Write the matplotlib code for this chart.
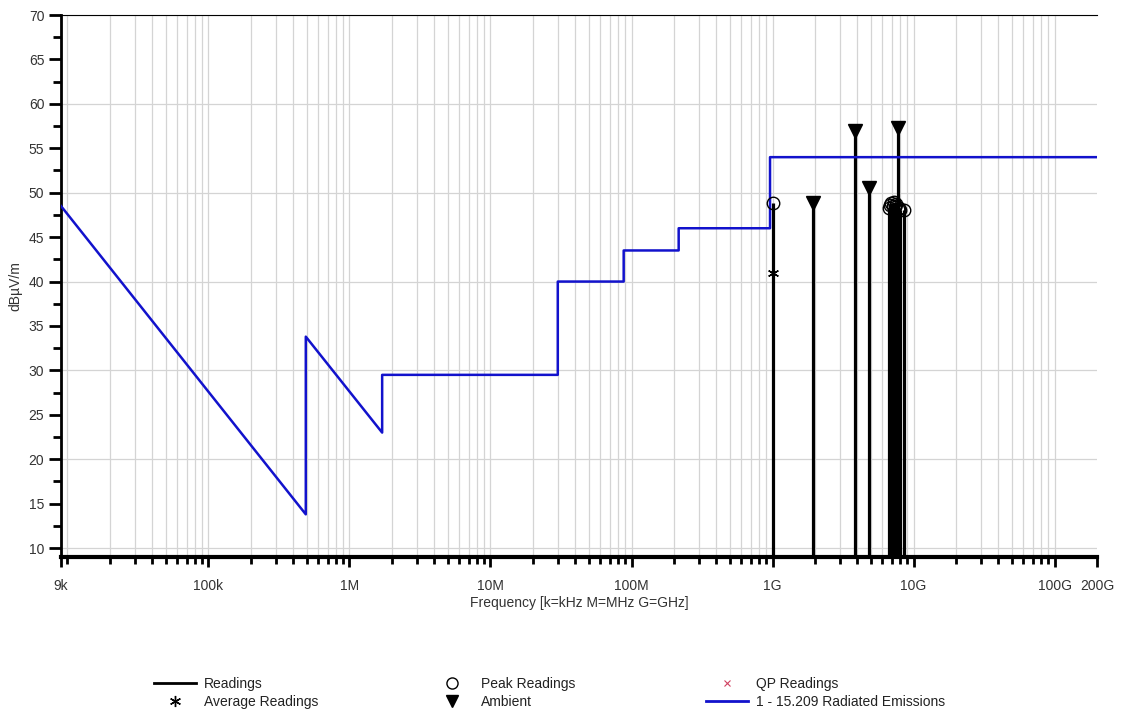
import numpy as np
import matplotlib
matplotlib.use("Agg")
import matplotlib.pyplot as plt
from matplotlib.lines import Line2D
from matplotlib.ticker import FixedLocator, NullFormatter, FixedFormatter

plt.rcParams['font.family'] = ['Liberation Sans', 'DejaVu Sans']

# ---- data ----
# FCC 15.209 limit (frequency Hz, dBuV/m)
limit_freq = [9e3, 490e3, 490e3, 1.705e6, 1.705e6, 30e6, 30e6, 88e6, 88e6, 216e6, 216e6, 960e6, 960e6, 2e11]
limit_val = [48.5, 13.8, 33.8, 23.0, 29.5, 29.5, 40.0, 40.0, 43.5, 43.5, 46.0, 46.0, 54.0, 54.0]

# Peak readings
peak_freq = [1.01e9, 6.65e9, 6.8e9, 6.95e9, 7.1e9, 7.25e9, 7.4e9, 7.55e9, 7.7e9, 7.85e9, 8.0e9, 8.6e9]
peak_val = [48.8, 48.3, 48.6, 48.8, 48.5, 48.9, 48.4, 48.7, 48.2, 48.3, 48.0, 48.1]

# Average readings
avg_freq = [1.01e9]
avg_val = [41.0]

# Ambient
amb_freq = [1.93e9, 3.85e9, 4.83e9, 7.72e9]
amb_val = [48.8, 56.9, 50.5, 57.3]

# axes ticks
x_major = [9e3, 1e5, 1e6, 1e7, 1e8, 1e9, 1e10, 1e11, 2e11]
x_labels = ['9k', '100k', '1M', '10M', '100M', '1G', '10G', '100G', '200G']
y_major = list(range(10, 71, 5))

W, H = 1121, 719
fig = plt.figure(figsize=(W / 100, H / 100), dpi=100)
ax = fig.add_axes([61 / W, 1 - 557 / H, (1097 - 61) / W, (557 - 15) / H])

ax.set_xscale('log')
ax.set_xlim(9e3, 2e11)
ax.set_ylim(9.0, 70)

# grid
minor_x = [m * 10 ** e for e in range(4, 12) for m in range(1, 10) if 9e3 < m * 10 ** e < 2e11]
for xv in minor_x:
    ax.axvline(xv, color='#d4d4d4', lw=0.9, zorder=0)
for yv in range(10, 71, 10):
    ax.axhline(yv, color='#d4d4d4', lw=0.9, zorder=0)

# readings lines
BASE = 9.0
for f, v in zip(peak_freq, peak_val):
    ax.plot([f, f], [BASE, v], color='black', lw=2.3, zorder=3, solid_capstyle='butt')
for f, v in zip(amb_freq, amb_val):
    ax.plot([f, f], [BASE, v], color='black', lw=2.3, zorder=3, solid_capstyle='butt')

# limit line
ax.plot(limit_freq, limit_val, color='#1212cc', lw=1.8, zorder=4)

# markers
ax.plot(peak_freq, peak_val, linestyle='none', marker='o', ms=9, mfc='none', mec='black', mew=1.0, zorder=5)
ax.plot(avg_freq, avg_val, linestyle='none', marker=(6, 2, 0), ms=8, mec='black', mew=1.0, zorder=5)
ax.plot(amb_freq, amb_val, linestyle='none', marker='v', ms=10, color='black', zorder=5)

# ticks
ax.xaxis.set_major_locator(FixedLocator(x_major))
ax.xaxis.set_major_formatter(FixedFormatter(x_labels))
ax.xaxis.set_minor_locator(FixedLocator(minor_x))
ax.xaxis.set_minor_formatter(NullFormatter())
ax.yaxis.set_major_locator(FixedLocator(y_major))
ax.yaxis.set_minor_locator(FixedLocator([v + 2.5 for v in range(10, 70, 5)]))
ax.tick_params(axis='x', which='major', direction='out', length=7, width=2, labelsize=10, pad=9, colors='black')
ax.tick_params(axis='x', which='minor', direction='out', length=5, width=2)
ax.tick_params(axis='y', which='major', direction='out', length=9, width=2, labelsize=10, pad=3)
ax.tick_params(axis='y', which='minor', direction='out', length=6, width=2)
for lab in ax.get_xticklabels() + ax.get_yticklabels():
    lab.set_color('#333333')

ax.spines['bottom'].set_linewidth(3)
ax.spines['left'].set_linewidth(2)
ax.spines['top'].set_linewidth(0.8)
ax.spines['right'].set_visible(False)

ax.set_xlabel('Frequency [k=kHz M=MHz G=GHz]', fontsize=10, color='#333333', labelpad=2)
ax.set_ylabel('dBµV/m', fontsize=10, color='#333333')
ax.yaxis.set_label_coords(-39 / (1097 - 61), 0.5)

# legend
def mk_legend(handles, labels, x0, y0):
    lg = fig.legend(handles, labels, loc='upper left', bbox_to_anchor=(x0 / W, 1 - y0 / H),
                    frameon=False, fontsize=10, handlelength=3.0, handletextpad=0.6,
                    labelspacing=0.3, borderpad=0, borderaxespad=0)
    for t in lg.get_texts():
        t.set_color('#222222')
    return lg

h_read = Line2D([], [], color='black', lw=2)
h_avg = Line2D([], [], color='black', linestyle='none', marker=(6, 2, 0), ms=8, mew=1.0)
h_peak = Line2D([], [], color='black', linestyle='none', marker='o', ms=8, mfc='none', mew=1.0)
h_amb = Line2D([], [], color='black', linestyle='none', marker='v', ms=8)
h_qp = Line2D([], [], color='#d04060', linestyle='none', marker='x', ms=5, mew=0.8)
h_lim = Line2D([], [], color='#1212cc', lw=2)

mk_legend([h_read, h_avg], ['Readings', 'Average Readings'], 154, 677)
mk_legend([h_peak, h_amb], ['Peak Readings', 'Ambient'], 431, 677)
mk_legend([h_qp, h_lim], ['QP Readings', '1 - 15.209 Radiated Emissions'], 706, 677)

fig.savefig('out.png', dpi=100)
